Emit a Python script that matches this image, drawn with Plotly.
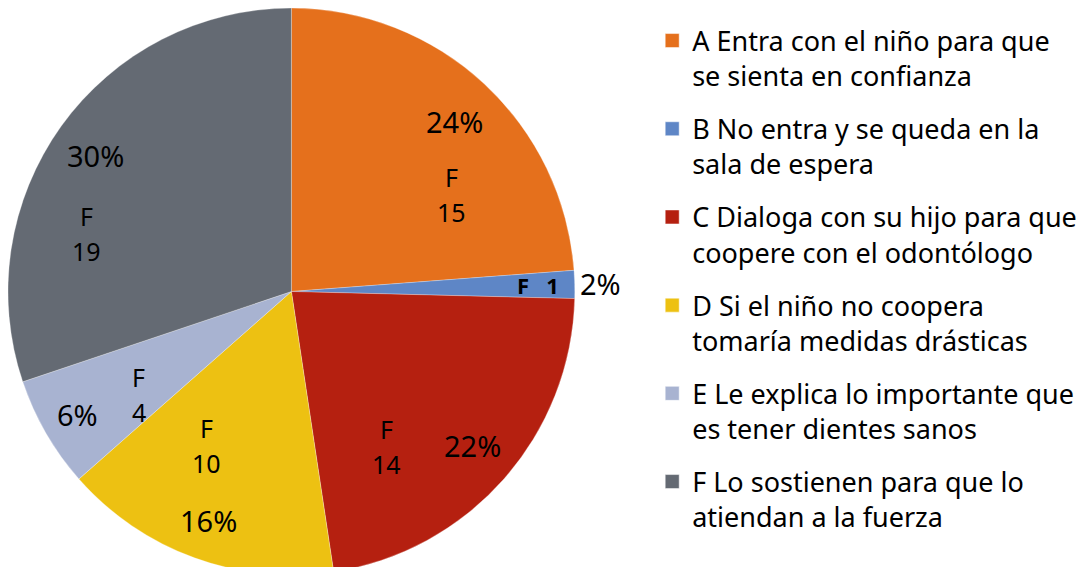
import math
import plotly.graph_objects as go

# ---- data ----
categories = ["A", "B", "C", "D", "E", "F"]
legend_labels = [
    "A Entra con el niño para que<br>se sienta en confianza",
    "B No entra y se queda en la<br>sala de espera",
    "C Dialoga con su hijo para que<br>coopere con el odontólogo",
    "D Si el niño no coopera<br>tomaría medidas drásticas",
    "E Le explica lo importante que<br>es tener dientes sanos",
    "F Lo sostienen para que lo<br>atiendan a la fuerza",
]
frequencies = [15, 1, 14, 10, 4, 19]

# ---- styles ----
colors = ["#E5701C", "#5E86C6", "#B52010", "#EDC112", "#A8B3D1", "#646A73"]
FONT = "Noto Sans, sans-serif"

# label placement (style, not data): angle offset (deg) and radius fraction
pct_r = [0.83, 1.09, 0.84, 0.86, 0.87, 0.84]
pct_dang = [-1, 0, 1, 0, 0, 1]
f_dang = [-16, 0, -17, -9, 4, 20]
f_r = [0.66, 0.87, 0.64, 0.62, 0.65, 0.75]

W, H = 1090, 567
dom_x = [0.0, 0.52]
cx = (dom_x[0] + dom_x[1]) / 2 * W
cy = H / 2
R = H / 2

fig = go.Figure()
fig.add_trace(go.Pie(
    labels=legend_labels,
    values=frequencies,
    sort=False,
    direction="clockwise",
    rotation=0,
    textinfo="none",
    hoverinfo="label+value+percent",
    marker=dict(colors=colors, line=dict(color="rgba(255,255,255,0.35)", width=0.8)),
    domain=dict(x=dom_x, y=[0, 1]),
    showlegend=False,
))

# legend entries (one per category, same colours as the slices)
for i, lab in enumerate(legend_labels):
    fig.add_trace(go.Scatter(
        x=[None], y=[None], mode="markers", name=lab,
        legendgroup=categories[i],
        marker=dict(symbol="square", size=14, color=colors[i],
                    line=dict(color="rgba(255,255,255,0.5)", width=1)),
        hoverinfo="skip",
    ))

total = sum(frequencies)
annotations = []
cum = 0
for i, v in enumerate(frequencies):
    mid = 90 - 360 * (cum + v / 2) / total
    cum += v
    pct = round(100 * v / total)

    def to_paper(ang, rf):
        a = math.radians(ang)
        return (cx + rf * R * math.cos(a)) / W, (cy + rf * R * math.sin(a)) / H

    px, py = to_paper(mid + pct_dang[i], pct_r[i])
    annotations.append(dict(x=px, y=py, xref="paper", yref="paper", showarrow=False,
                            text=f"{pct}%", font=dict(family=FONT, size=29, color="black"),
                            xanchor="center", yanchor="middle"))
    fx, fy = to_paper(mid + f_dang[i], f_r[i])
    if categories[i] == "B":
        annotations.append(dict(x=fx, y=fy, xref="paper", yref="paper", showarrow=False,
                                text=f"<b>F   {v}</b>", font=dict(family=FONT, size=22, color="black"),
                                xanchor="center", yanchor="middle"))
    else:
        annotations.append(dict(x=fx, y=fy, xref="paper", yref="paper", showarrow=False,
                                text="F", font=dict(family=FONT, size=25, color="black"),
                                xanchor="center", yanchor="middle", yshift=17.5))
        annotations.append(dict(x=fx, y=fy, xref="paper", yref="paper", showarrow=False,
                                text=str(v), font=dict(family=FONT, size=25, color="black"),
                                xanchor="center", yanchor="middle", yshift=-17.5))

fig.update_layout(
    width=W, height=H,
    margin=dict(l=0, r=0, t=0, b=0),
    paper_bgcolor="white",
    plot_bgcolor="white",
    annotations=annotations,
    xaxis=dict(visible=False),
    yaxis=dict(visible=False),
    legend=dict(
        x=0.591, y=0.985, xanchor="left", yanchor="top",
        font=dict(family=FONT, size=27, color="black"),
        valign="top",
        tracegroupgap=15,
        bgcolor="rgba(0,0,0,0)",
    ),
)

fig.write_html("out.html")
